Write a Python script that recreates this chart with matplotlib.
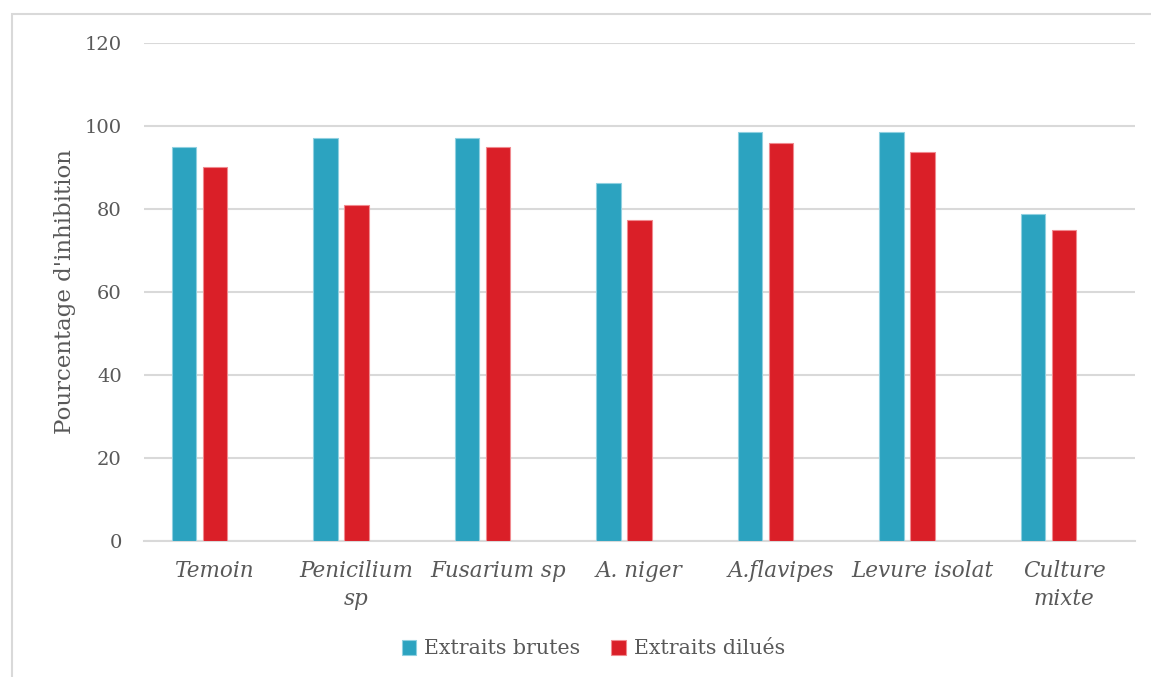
import numpy as np
import matplotlib.pyplot as plt
from matplotlib.patches import Rectangle

categories = ["Temoin", "Penicilium\nsp", "Fusarium sp", "A. niger",
              "A.flavipes", "Levure isolat", "Culture\nmixte"]
brutes = [95, 97, 97, 86.2, 98.5, 98.5, 78.7]
dilues = [90, 81, 95, 77.4, 96, 93.7, 75]
yticks = [0, 20, 40, 60, 80, 100, 120]

teal = "#2CA3C0"
red = "#DA1F28"
txt = "#595959"
plt.rcParams['font.family'] = ['DejaVu Serif']

fig = plt.figure(figsize=(11.51, 6.77), dpi=100)
ax = fig.add_axes([0.1251, 0.2009, 0.861, 0.7356])

# outer chart border (only left/top visible in the original)
fig.patches.append(Rectangle((12 / 1151, -0.1), 1.2, 1 - 14 / 677 + 0.1,
                             transform=fig.transFigure, fill=False,
                             edgecolor="#D9D9D9", linewidth=1.5))

x = np.arange(len(categories))
w = 0.173
step = 0.219
ax.bar(x - step, brutes, w, color=teal, edgecolor="#8fd0e0", linewidth=0.8,
       label="Extraits brutes", zorder=3)
ax.bar(x, dilues, w, color=red, edgecolor="#f08a8f", linewidth=0.8,
       label="Extraits dilués", zorder=3)

ax.set_xlim(-0.5, len(categories) - 0.5)
ax.set_ylim(0, 120)
ax.set_yticks(yticks)
ax.set_yticklabels([str(v) for v in yticks], fontsize=14, color=txt)
ax.set_xticks(x)
ax.set_xticklabels(categories, fontsize=15.5, color=txt, style="italic",
                   linespacing=1.35)
ax.tick_params(axis="both", length=0)
ax.tick_params(axis="y", pad=16)
ax.tick_params(axis="x", pad=14)
ax.grid(axis="y", color="#D9D9D9", linewidth=1.5, zorder=0)
for s in ["top", "right", "left"]:
    ax.spines[s].set_visible(False)
ax.spines["bottom"].set_color("#D9D9D9")
ax.spines["bottom"].set_linewidth(1.5)

ax.set_ylabel("Pourcentage d'inhibition", fontsize=16.5, color=txt)
ax.yaxis.set_label_coords(-0.069, 0.5)

fig.legend(loc="center", bbox_to_anchor=(593.5 / 1151, 1 - 649 / 677),
           ncol=2, frameon=False, fontsize=14.8, labelcolor=txt,
           handlelength=0.7, handleheight=0.7, handletextpad=0.4,
           columnspacing=1.5)

fig.savefig("out.png", dpi=100)
